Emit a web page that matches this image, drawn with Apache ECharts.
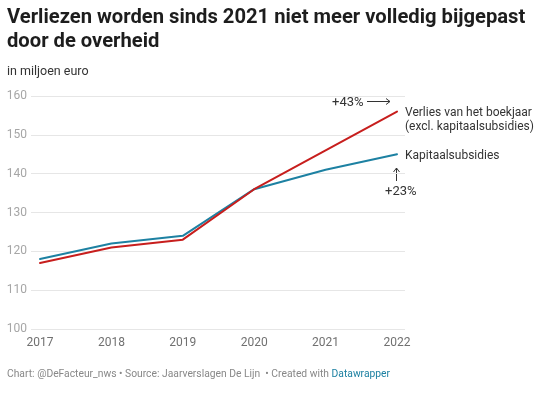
<!DOCTYPE html>
<html><head><meta charset="utf-8">
<script src="https://cdn.jsdelivr.net/npm/echarts@6/dist/echarts.min.js"></script>
<style>html,body{margin:0;padding:0;background:#fff}#c{width:543px;height:395px}</style>
</head><body><div id="c"></div>
<script>
const years = [2017, 2018, 2019, 2020, 2021, 2022];
const verlies = [117, 121, 123, 136, 146, 156];
const kapitaal = [118, 122, 124, 136, 141, 145];
const yTicks = [100, 110, 120, 130, 140, 150, 160];
const RED = '#c71e1d', BLUE = '#1d81a2';
const chart = echarts.init(document.getElementById('c'), null, {renderer: 'canvas'});
const F = 'Roboto, sans-serif';
chart.setOption({
  animation: false,
  title: [{
    text: 'Verliezen worden sinds 2021 niet meer volledig bijgepast\ndoor de overheid',
    left: 7, top: 6, padding: 0,
    textStyle: {fontFamily: F, fontWeight: 'bold', fontSize: 20.2, lineHeight: 24, color: '#1d1d1d'}
  }, {
    text: 'in miljoen euro', left: 7, top: 65, padding: 0,
    textStyle: {fontFamily: F, fontWeight: 'normal', fontSize: 12.5, color: '#333'}
  }, {
    text: 'Chart: @DeFacteur_nws • Source: Jaarverslagen De Lijn  • Created with {a|Datawrapper}',
    left: 7, top: 369, padding: 0,
    textStyle: {fontFamily: F, fontWeight: 'normal', fontSize: 10.3, color: '#888',
      rich: {a: {fontFamily: F, fontSize: 10.3, color: '#1d81a2'}}}
  }],
  grid: {left: 31, right: 138, top: 96, bottom: 66},
  xAxis: {
    type: 'value', min: 2016.874, max: 2022.112,
    axisLine: {show: false}, axisTick: {show: false}, splitLine: {show: false},
    axisLabel: {customValues: years, color: '#707070', fontFamily: F, fontSize: 12, margin: 8,
      formatter: v => String(v)}
  },
  yAxis: {
    type: 'value', min: 100, max: 160, interval: 10,
    axisLine: {show: false}, axisTick: {show: false},
    splitLine: {lineStyle: {color: '#e6e6e6', width: 1}},
    axisLabel: {color: '#a6a6a6', fontFamily: F, fontSize: 12, margin: 4}
  },
  series: [{
    type: 'line', data: years.map((y, i) => [y, kapitaal[i]]), showSymbol: false,
    lineStyle: {color: BLUE, width: 2, join: 'round', cap: 'round'},
    endLabel: {show: true, formatter: 'Kapitaalsubsidies', color: '#333', fontFamily: F, fontSize: 12,
      distance: 8, offset: [0, 2]}
  }, {
    type: 'line', data: years.map((y, i) => [y, verlies[i]]), showSymbol: false,
    lineStyle: {color: RED, width: 2, join: 'round', cap: 'round'},
    endLabel: {show: true, formatter: 'Verlies van het boekjaar\n(excl. kapitaalsubsidies)', color: '#333',
      fontFamily: F, fontSize: 12, lineHeight: 14, distance: 8, offset: [0, 8]}
  }],
  graphic: [
    {type: 'text', left: 332, top: 96, style: {text: '+43%', font: '13px Roboto, sans-serif', fill: '#333'}},
    {type: 'line', shape: {x1: 367, y1: 101.5, x2: 390, y2: 101.5}, style: {stroke: '#333', lineWidth: 1}},
    {type: 'polyline', shape: {points: [[386, 98.5], [390, 101.5], [386, 104.5]]}, style: {stroke: '#333', lineWidth: 1, fill: null}},
    {type: 'text', left: 385, top: 185, style: {text: '+23%', font: '13px Roboto, sans-serif', fill: '#333'}},
    {type: 'line', shape: {x1: 396.5, y1: 168, x2: 396.5, y2: 181}, style: {stroke: '#333', lineWidth: 1}},
    {type: 'polyline', shape: {points: [[393.5, 172], [396.5, 168], [399.5, 172]]}, style: {stroke: '#333', lineWidth: 1, fill: null}}
  ]
});
</script></body></html>
